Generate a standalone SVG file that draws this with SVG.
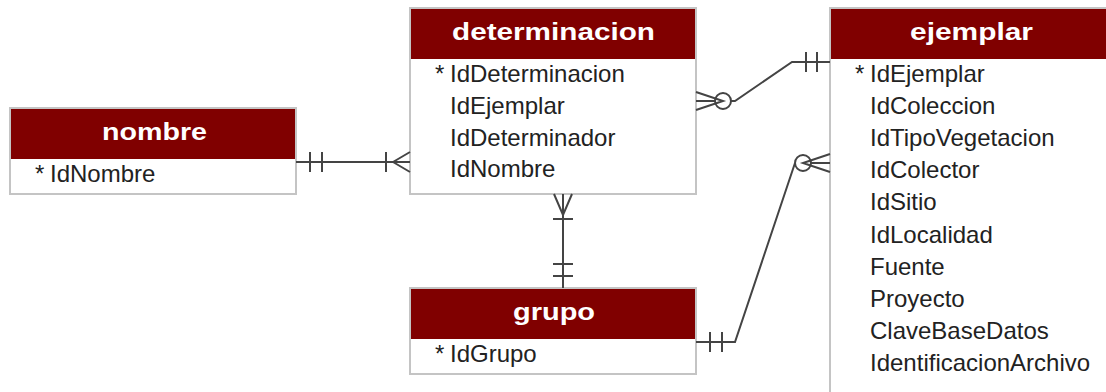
<svg xmlns="http://www.w3.org/2000/svg" width="1106" height="392" viewBox="0 0 1106 392">
<style>
.box{fill:#ffffff;stroke:#c4c4c4;stroke-width:2}
.hdr{fill:#800000}
.title{font-family:"Liberation Sans",Arial,sans-serif;font-weight:bold;font-size:23px;fill:#ffffff;text-anchor:middle}
.attr{font-family:"Liberation Sans",Arial,sans-serif;font-size:24px;fill:#222222}
.ln{fill:none;stroke:#444444;stroke-width:2}
</style>
<rect width="1106" height="392" fill="#ffffff"/>
<g id="nombre">
<rect class="box" x="10" y="108" width="286" height="86"/>
<rect class="hdr" x="11" y="109" width="284" height="50"/>
<text class="title" x="154.5" y="140" textLength="105" lengthAdjust="spacingAndGlyphs">nombre</text>
<text class="attr" x="35" y="182">*</text>
<text class="attr" x="50" y="182">IdNombre</text>
</g>
<g id="determinacion">
<rect class="box" x="410" y="8" width="286" height="186"/>
<rect class="hdr" x="411" y="9" width="284" height="50"/>
<text class="title" x="553.5" y="40" textLength="203" lengthAdjust="spacingAndGlyphs">determinacion</text>
<text class="attr" x="435" y="81.5">*</text>
<text class="attr" x="450" y="81.5">IdDeterminacion</text>
<text class="attr" x="450" y="113.5">IdEjemplar</text>
<text class="attr" x="450" y="145.5">IdDeterminador</text>
<text class="attr" x="450" y="177">IdNombre</text>
</g>
<g id="grupo">
<rect class="box" x="410" y="288" width="286" height="86"/>
<rect class="hdr" x="411" y="289" width="284" height="50"/>
<text class="title" x="554" y="320" textLength="82" lengthAdjust="spacingAndGlyphs">grupo</text>
<text class="attr" x="435" y="362">*</text>
<text class="attr" x="450" y="362">IdGrupo</text>
</g>
<g id="ejemplar">
<rect class="box" x="830" y="8" width="290" height="400"/>
<rect class="hdr" x="831" y="9" width="288" height="50"/>
<text class="title" x="971.5" y="40" textLength="123" lengthAdjust="spacingAndGlyphs">ejemplar</text>
<text class="attr" x="855" y="81.5">*</text>
<text class="attr" x="870" y="81.5">IdEjemplar</text>
<text class="attr" x="870" y="113.7">IdColeccion</text>
<text class="attr" x="870" y="145.9">IdTipoVegetacion</text>
<text class="attr" x="870" y="178.1">IdColector</text>
<text class="attr" x="870" y="210.3">IdSitio</text>
<text class="attr" x="870" y="242.5">IdLocalidad</text>
<text class="attr" x="870" y="274.7">Fuente</text>
<text class="attr" x="870" y="306.9">Proyecto</text>
<text class="attr" x="870" y="339.1">ClaveBaseDatos</text>
<text class="attr" x="870" y="371.3">IdentificacionArchivo</text>
</g>
<g id="connectors">
<!-- nombre - determinacion -->
<path class="ln" d="M296 162 H410"/>
<path class="ln" d="M310 152 V172 M322 152 V172"/>
<path class="ln" d="M386 152 V172 M393 162 L410 152 M393 162 L410 172"/>
<!-- determinacion - ejemplar -->
<path class="ln" d="M696 101 H715 M731 101 H735 L792 62 H830"/>
<path class="ln" d="M696 92 L723 101 L696 110"/>
<circle class="ln" cx="723" cy="101" r="8"/>
<path class="ln" d="M806 52 V72 M817 52 V72"/>
<!-- grupo - ejemplar -->
<path class="ln" d="M830 163 H811 M795 163 L735 342 H696"/>
<path class="ln" d="M830 154 L803 163 L830 172"/>
<circle class="ln" cx="803" cy="163" r="8"/>
<path class="ln" d="M710 332 V352 M722 332 V352"/>
<!-- determinacion - grupo -->
<path class="ln" d="M563 194 V288"/>
<path class="ln" d="M554 194 L563 215 L572 194"/>
<path class="ln" d="M553 219 H573"/>
<path class="ln" d="M553 264 H573 M553 276 H573"/>
</g>
</svg>
